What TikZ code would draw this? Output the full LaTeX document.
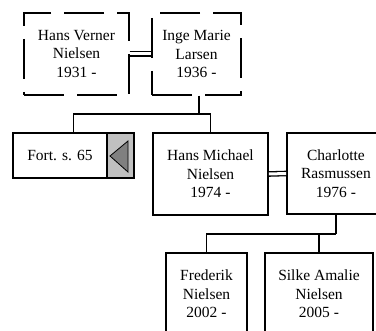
\documentclass[tikz,border=0pt]{standalone}
\usepackage{fontspec}
\setmainfont{Liberation Serif}
\usepackage{xcolor}
\usepackage{tikz}

\definecolor{lightgrey}{HTML}{C0C0C0}
\definecolor{darkgrey}{HTML}{808080}

\tikzset{
  person/.style={draw, line width=1.7pt, fill=white, align=center, inner sep=0pt,
    font=\fontsize{15.5}{18.5}\selectfont},
  ancestor/.style={person, line width=1.3pt, dash pattern=on 40pt off 13pt},
  spouse/.style={draw=black, double=white, double distance=3pt, line width=1.3pt},
  link/.style={line width=1.7pt}
}

\begin{document}
\begin{tikzpicture}[x=1pt, y=-1pt]
\path[use as bounding box, clip] (0,0) rectangle (376,331);

% Grandparents
\node[ancestor, minimum width=105pt, minimum height=82pt] (hv) at (76.5,54) {Hans Verner\\Nielsen\\1931 -};
\node[ancestor, minimum width=89pt, minimum height=82pt] (im) at (196.5,54) {Inge Marie\\Larsen\\1936 -};
\draw[spouse] (hv.east) -- (im.west);

% Reference box
\fill[white] (13,133) rectangle (107,178);
\fill[lightgrey] (107,133) rectangle (134,178);
\node[person, fill=none, minimum width=121pt, minimum height=45pt] (fort) at (73.5,155.5) {};
\draw[line width=1.7pt] (107,133) -- (107,178);
\node[font=\fontsize{15.5}{18.5}\selectfont] (fortlabel) at (60,155.5) {Fort. s. 65};
\filldraw[fill=darkgrey, draw=black, line width=0.8pt] (110,156) -- (128,141) -- (128,172) -- cycle;

% Parents
\node[person, minimum width=115pt, minimum height=82pt] (hm) at (210.5,174) {Hans Michael\\Nielsen\\1974 -};
\node[person, minimum width=98pt, minimum height=81pt] (ch) at (336,173.5) {Charlotte\\Rasmussen\\1976 -};
\draw[spouse] (hm.east) -- (ch.west);

% Children
\node[person, minimum width=81pt, minimum height=82pt] (fr) at (206.5,294) {Frederik\\Nielsen\\2002 -};
\node[person, minimum width=108pt, minimum height=82pt] (sa) at (319,294) {Silke Amalie\\Nielsen\\2005 -};

% Descent lines
\draw[link] ([xshift=2.5pt]im.south) -- ++(0,18.5) coordinate (j1);
\draw[link] (fort.north) |- (j1) -| (hm.north);
\draw[link] (ch.south) -- ++(0,19) coordinate (j2);
\draw[link] (fr.north) |- (j2);
\draw[link] (sa.north) -- (sa.north |- j2);

\end{tikzpicture}
\end{document}
